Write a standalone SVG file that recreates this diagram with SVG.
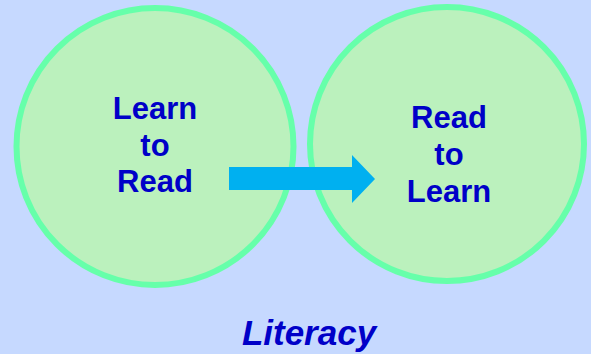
<svg xmlns="http://www.w3.org/2000/svg" width="591" height="354" viewBox="0 0 591 354">
<style>
.c{fill:#bbf1bd;stroke:#66ffaa;stroke-width:6}
.t{font-family:"Liberation Sans",Arial,sans-serif;font-weight:bold;font-size:31px;fill:#0000c8;text-anchor:middle}
</style>
<rect width="591" height="354" fill="#c6d9ff"/>
<g id="learn-to-read">
<circle class="c" cx="155" cy="146.5" r="138.5"/>
<text class="t" x="155" y="119">Learn</text>
<text class="t" x="155" y="155.5">to</text>
<text class="t" x="155" y="192">Read</text>
</g>
<g id="read-to-learn">
<circle class="c" cx="447" cy="144" r="137"/>
<text class="t" x="449" y="128">Read</text>
<text class="t" x="449" y="165">to</text>
<text class="t" x="449" y="202">Learn</text>
</g>
<g id="connectors">
<polygon points="229,167 352,167 352,155 375,179 352,203 352,190 229,190" fill="#00b0f0"/>
</g>
<text id="literacy" x="309" y="345" font-family="Liberation Sans,Arial,sans-serif" font-weight="bold" font-style="italic" font-size="35" fill="#0000c8" text-anchor="middle">Literacy</text>
</svg>
